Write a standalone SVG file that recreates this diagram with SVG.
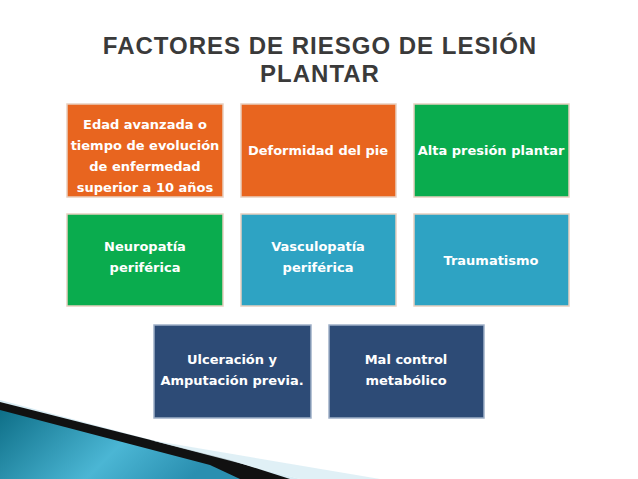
<svg xmlns="http://www.w3.org/2000/svg" width="638" height="479" viewBox="0 0 638 479">
<defs>
<linearGradient id="tg" x1="0" y1="0" x2="1" y2="0.3"><stop offset="0" stop-color="#0e6f88"/><stop offset="0.6" stop-color="#4bb6d4"/><stop offset="1" stop-color="#2a8fb0"/></linearGradient>
<style>
.b{stroke:#e8d0c0;stroke-width:1.5}
.t{font-family:"DejaVu Sans",sans-serif;font-weight:bold;font-size:13px;fill:#fff;text-anchor:middle}
.h{font-family:"Liberation Sans",Arial,sans-serif;font-weight:bold;font-size:24px;fill:#3a3a3a;text-anchor:middle;letter-spacing:1px}
</style>
</defs>
<rect width="638" height="479" fill="#fff"/>
<text class="h" x="320" y="54">FACTORES DE RIESGO DE LESIÓN</text>
<text class="h" x="320" y="82">PLANTAR</text>
<g id="deco">
<polygon points="0,400 300,479 0,479" fill="#d8ecf4"/>
<polygon points="0,402 230,460 290,479 0,479" fill="#111"/>
<polygon points="0,410 210,465 240,479 0,479" fill="url(#tg)"/>
<polygon points="150,440 380,479 300,479" fill="#d8ecf4" opacity="0.8"/>
</g>
<g id="n1"><rect class="b" x="67" y="104" width="156" height="93" fill="#e8651f"/>
<text class="t" x="145" y="129">Edad avanzada o</text><text class="t" x="145" y="150">tiempo de evolución</text><text class="t" x="145" y="171">de enfermedad</text><text class="t" x="145" y="192">superior a 10 años</text></g>
<g id="n2"><rect class="b" x="241" y="104" width="155" height="93" fill="#e8651f"/><text class="t" x="318" y="155">Deformidad del pie</text></g>
<g id="n3"><rect class="b" x="414" y="104" width="155" height="93" fill="#0aac4e"/><text class="t" x="491" y="155">Alta presión plantar</text></g>
<g id="n4"><rect class="b" x="67" y="214" width="156" height="92" fill="#0aac4e"/><text class="t" x="145" y="251">Neuropatía</text><text class="t" x="145" y="272">periférica</text></g>
<g id="n5"><rect class="b" x="241" y="214" width="155" height="92" fill="#2ea3c3"/><text class="t" x="318" y="251">Vasculopatía</text><text class="t" x="318" y="272">periférica</text></g>
<g id="n6"><rect class="b" x="414" y="214" width="155" height="92" fill="#2ea3c3"/><text class="t" x="491" y="265">Traumatismo</text></g>
<g id="n7"><rect x="154" y="325" width="157" height="93" fill="#2d4b76" stroke="#9fb0c8" stroke-width="1.5"/><text class="t" x="232" y="364">Ulceración y</text><text class="t" x="232" y="385">Amputación previa.</text></g>
<g id="n8"><rect x="329" y="325" width="155" height="93" fill="#2d4b76" stroke="#9fb0c8" stroke-width="1.5"/><text class="t" x="406" y="364">Mal control</text><text class="t" x="406" y="385">metabólico</text></g>
<g id="connectors"/>
</svg>
